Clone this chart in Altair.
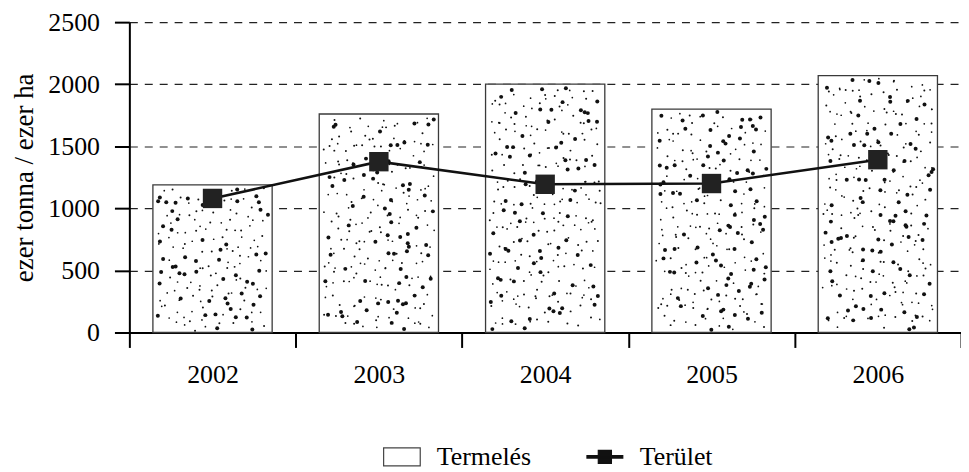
import altair as alt
import pandas as pd

# ---- data ----
years = ["2002", "2003", "2004", "2005", "2006"]
termeles = [1190, 1760, 2000, 1800, 2070]   # bars (ezer tonna)
terulet = [1080, 1376, 1194, 1200, 1392]    # line (ezer ha)
series_names = ["Termelés", "Terület"]
y_ticks = [0, 500, 1000, 1500, 2000, 2500]
y_title = "ezer tonna / ezer ha"

FONT = "Liberation Serif"
BAR_FRAC = 0.717

df = pd.DataFrame({"year": years, "idx": list(range(len(years))),
                   "Termelés": termeles, "Terület": terulet})
legend_df = pd.DataFrame({"series": series_names})

x_scale = alt.Scale(domain=years, paddingInner=0, paddingOuter=0)
x_axis = alt.Axis(title=None, labelAngle=0, tickBand="extent", labelPadding=14,
                  grid=False)
y_scale = alt.Scale(domain=[0, 2500], nice=False)
y_axis = alt.Axis(title=y_title, values=y_ticks, format="d", grid=True,
                  labelPadding=15, titlePadding=9, gridDash=[8, 7],
                  gridColor="#222", gridWidth=1.2)


def X(axis=None):
    return alt.X("year:N", sort=years, scale=x_scale, axis=axis)


bars = alt.Chart(df).mark_bar(fill="white", stroke="#3a3a3a", strokeWidth=1.3,
                              width=alt.RelativeBandSize(BAR_FRAC)).encode(
    x=X(x_axis),
    y=alt.Y("Termelés:Q", scale=y_scale, axis=y_axis),
)

# stipple texture inside the bars (decorative only, derived from bar height)
stipple = (
    alt.Chart(df)
    .transform_calculate(seq="sequence(0, floor(datum['Termelés'] / 7))")
    .transform_flatten(["seq"])
    .transform_calculate(k="datum.seq * 1.0 + datum.idx * 531.0 + 17.0")
    .transform_calculate(
        h1="sin(datum.k * 127.1 + 311.7) * 43758.5453",
        h2="sin(datum.k * 269.5 + 183.3) * 24634.6345",
        h3="sin(datum.k * 419.2 + 371.9) * 15731.7431",
        h4="sin(datum.k * 91.7 + 57.3) * 35412.2131",
    )
    .transform_calculate(
        r1="datum.h1 - floor(datum.h1)",
        r2="datum.h2 - floor(datum.h2)",
        r3="datum.h3 - floor(datum.h3)",
        r4="datum.h4 - floor(datum.h4)",
    )
    .transform_calculate(
        ua="datum.k * 0.7548776662 + 0.06 * datum.r1",
        va="datum.k * 0.5698402910 + 0.06 * datum.r2",
    )
    .transform_calculate(
        u="datum.ua - floor(datum.ua)",
        v="datum.va - floor(datum.va)",
        dot="datum.r3 < 0.28 ? 16 : (datum.r4 < 0.5 ? 4 : 3)",
    )
    .transform_calculate(
        xq=f"datum.idx + (datum.u - 0.5) * {BAR_FRAC - 0.05}",
        yv="datum['Termelés'] * (0.012 + 0.976 * datum.v)",
    )
    .mark_circle(color="#111", opacity=1)
    .encode(
        x=alt.X("xq:Q", scale=alt.Scale(domain=[-0.5, len(years) - 0.5], nice=False,
                                          zero=False), axis=None),
        y=alt.Y("yv:Q", scale=y_scale, axis=y_axis),
        size=alt.Size("dot:Q", scale=None, legend=None),
    )
)

line = alt.Chart(df).mark_line(color="#111", strokeWidth=2.6).encode(
    x=X(),
    y=alt.Y("Terület:Q", scale=y_scale, axis=y_axis),
)

squares = alt.Chart(df).mark_point(shape="square", size=380, filled=True,
                                   color="#222", opacity=1).encode(
    x=X(),
    y=alt.Y("Terület:Q", scale=y_scale, axis=y_axis),
)

rect_path = "M-0.92,-0.45H0.92V0.45H-0.92Z"
line_sq_path = "M-0.9,-0.06H0.9V0.06H-0.9Z M-0.33,-0.33H0.33V0.33H-0.33Z"

leg = alt.Legend(title=None, orient="none", legendX=253, legendY=416,
                 direction="horizontal", symbolSize=1600, symbolOpacity=1,
                 symbolStrokeWidth=1.2, labelOffset=14, columnPadding=53,
                 labelFont=FONT, labelFontSize=26, labelColor="black",
                 labelBaseline="middle")

legend_layer = alt.Chart(legend_df).mark_point(opacity=0).encode(
    shape=alt.Shape("series:N", scale=alt.Scale(domain=series_names,
                    range=[rect_path, line_sq_path]), legend=leg),
    fill=alt.Fill("series:N", scale=alt.Scale(domain=series_names,
                  range=["white", "#111"]), legend=leg),
    stroke=alt.Stroke("series:N", scale=alt.Scale(domain=series_names,
                      range=["#444", "#111"]), legend=leg),
)

chart = (
    alt.layer(bars, stipple, line, squares, legend_layer)
    .resolve_scale(x="independent")
    .properties(width=836, height=312,
                autosize=alt.AutoSizeParams(type="none"),
                padding={"left": 122, "top": 13, "right": 0, "bottom": 138})
    .configure_view(stroke=None)
    .configure_axis(labelFont=FONT, titleFont=FONT, labelColor="black",
                    titleColor="black", domainColor="black", tickColor="black",
                    domainWidth=2, tickWidth=2, tickSize=15, labelFontSize=26,
                    titleFontSize=27, titleFontWeight="normal")
)

chart.save("out.html", embed_options={"renderer": "svg", "actions": False})
